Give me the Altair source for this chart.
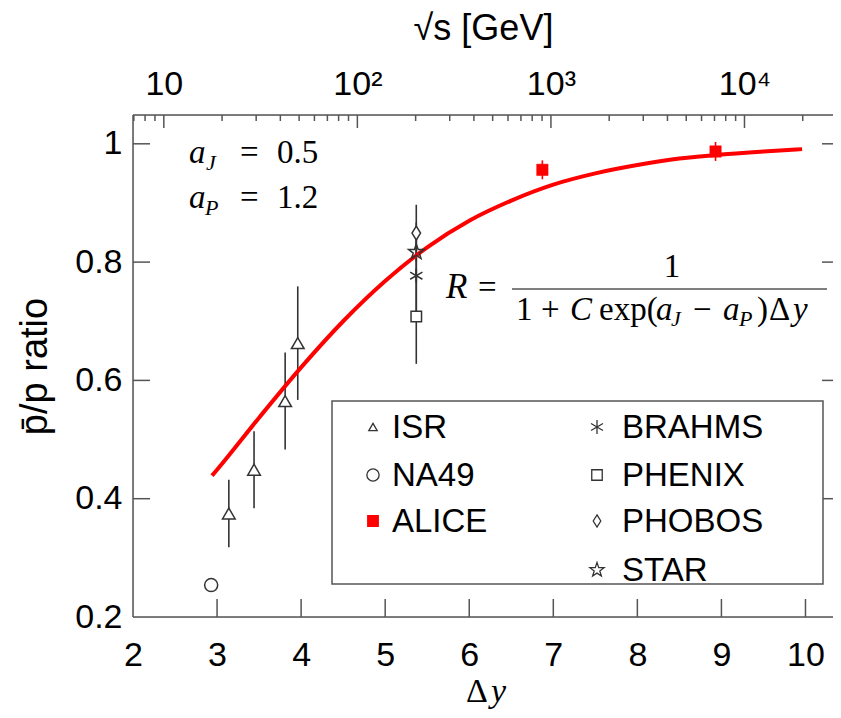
import math
import altair as alt
import pandas as pd

# ---------------- data ----------------
isr_dy = [3.14, 3.44, 3.81, 3.96]
isr_r = [0.375, 0.449, 0.565, 0.663]
isr_err = [0.057, 0.065, 0.082, 0.096]

na49_dy = [2.93]
na49_r = [0.254]
na49_err = [0.0]

alice_dy = [6.87, 8.93]
alice_r = [0.956, 0.987]
alice_err = [0.016, 0.016]

brahms_dy = [5.37]
brahms_r = [0.777]
brahms_err = [0.07]

phenix_dy = [5.37]
phenix_r = [0.708]
phenix_err = [0.08]

phobos_dy = [5.37]
phobos_r = [0.849]
phobos_err = [0.048]

star_dy = [5.37]
star_r = [0.817]
star_err = [0.05]

curve_dy = [2.94, 3.0, 3.5, 4.0, 4.5, 5.0, 5.5, 6.0, 6.5, 7.0, 7.5, 8.0, 8.5, 9.0, 9.5, 9.96]
curve_r = [0.439, 0.449, 0.537, 0.622, 0.700, 0.768, 0.825, 0.870, 0.904, 0.931,
           0.950, 0.964, 0.975, 0.982, 0.987, 0.991]

x_ticks = [2, 3, 4, 5, 6, 7, 8, 9, 10]
y_ticks = [0.2, 0.4, 0.6, 0.8, 1.0]
sqrt_s_major = [10, 100, 1000, 10000]
sqrt_s_minor = [7, 8, 9, 20, 30, 40, 50, 60, 70, 80, 90,
                200, 300, 400, 500, 600, 700, 800, 900,
                2000, 3000, 4000, 5000, 6000, 7000, 8000, 9000, 20000, 30000]

legend_col1 = ["ISR", "NA49", "ALICE"]
legend_col2 = ["BRAHMS", "PHENIX", "PHOBOS", "STAR"]

# ---------------- layout ----------------
W, H = 700, 502
PX_PER_DY = 84.06
PX_PER_R = 591.5
X_DOMAIN = [2, 2 + W / PX_PER_DY]
Y_DOMAIN = [0.2, 0.2 + H / PX_PER_R]
M_P = 0.938  # Δy = ln(√s / m_p)
S_DOMAIN = [M_P * math.exp(X_DOMAIN[0]), M_P * math.exp(X_DOMAIN[1])]
minor_in = [v for v in sqrt_s_minor if S_DOMAIN[0] <= v <= S_DOMAIN[1]]

SANS = "Liberation Sans"
SERIF = "Liberation Serif"
FRAME = "#555555"
MARK = "#333333"
RED = "#ff0000"
LBL = 34
MATH = 33

one = pd.DataFrame({"k": [0]})

xscale = alt.Scale(domain=X_DOMAIN, nice=False, zero=False)
yscale = alt.Scale(domain=Y_DOMAIN, nice=False, zero=False)

xaxis = alt.Axis(orient="bottom", values=x_ticks, tickSize=0, domain=False, grid=False,
                 labelFontSize=LBL, labelFont=SANS, labelColor="black", labelPadding=21,
                 labelFlush=False, labelOverlap=False, title=None)
yaxis = alt.Axis(values=y_ticks, tickSize=0, domain=False, grid=False,
                 labelExpr="datum.value == 1 ? '1' : format(datum.value, '.1f')",
                 labelFontSize=LBL, labelFont=SANS, labelColor="black", labelPadding=11,
                 labelFlush=False, labelOverlap=False,
                 title="p\u0304/p ratio", titleFont=SANS, titleFontSize=38,
                 titleFontWeight="normal", titleColor="black", titlePadding=20)

X = alt.X("dy:Q", scale=xscale, axis=xaxis)
Y = alt.Y("r:Q", scale=yscale, axis=yaxis)


def series(dy, r, err):
    return pd.DataFrame({"dy": dy, "r": r,
                         "lo": [a - e for a, e in zip(r, err)],
                         "hi": [a + e for a, e in zip(r, err)]})


def errbars(df, color=MARK):
    return alt.Chart(df).mark_rule(color=color, strokeWidth=1.6).encode(
        x=X, y=alt.Y("lo:Q", scale=yscale, axis=yaxis), y2="hi:Q")


def points(df, shape, size, fill, stroke, sw=1.5):
    return alt.Chart(df).mark_point(shape=shape, size=size, fill=fill, stroke=stroke,
                                    strokeWidth=sw, opacity=1, fillOpacity=1).encode(x=X, y=Y)


ASTER = "M0,-1L0,1M-0.87,-0.5L0.87,0.5M-0.87,0.5L0.87,-0.5"
NARROW_DIAMOND = "M0,-1L0.62,0L0,1L-0.62,0Z"
STAR = ("M0,-1L0.235,-0.324L0.951,-0.309L0.380,0.124L0.588,0.809L0,0.42"
        "L-0.588,0.809L-0.380,0.124L-0.951,-0.309L-0.235,-0.324Z")

isr = series(isr_dy, isr_r, isr_err)
na49 = series(na49_dy, na49_r, na49_err)
alice = series(alice_dy, alice_r, alice_err)
brahms = series(brahms_dy, brahms_r, brahms_err)
phenix = series(phenix_dy, phenix_r, phenix_err)
phobos = series(phobos_dy, phobos_r, phobos_err)
star = series(star_dy, star_r, star_err)

curve = alt.Chart(pd.DataFrame({"dy": curve_dy, "r": curve_r})).mark_line(
    color=RED, strokeWidth=4, interpolate="monotone").encode(x=X, y=Y)

tick_x = pd.DataFrame({"dy": x_ticks[1:]})
tick_y = pd.DataFrame({"r": y_ticks[1:]})
bottom_ticks = alt.Chart(tick_x).mark_rule(color=FRAME, strokeWidth=1.5).encode(
    x=X, y=alt.value(H), y2=alt.value(H - 18))
left_ticks = alt.Chart(tick_y).mark_rule(color=FRAME, strokeWidth=1.5).encode(
    y=Y, x=alt.value(0), x2=alt.value(17))
right_ticks = alt.Chart(tick_y).mark_rule(color=FRAME, strokeWidth=1.5).encode(
    y=Y, x=alt.value(W - 11), x2=alt.value(W))


def frame_line(**enc):
    return alt.Chart(one).mark_rule(color=FRAME, strokeWidth=1.5).encode(**enc)


frame = [
    frame_line(x=alt.value(0), y=alt.value(0), y2=alt.value(H)),
    frame_line(y=alt.value(0), x=alt.value(0), x2=alt.value(W)),
    frame_line(y=alt.value(H), x=alt.value(0), x2=alt.value(W)),
]

main = alt.layer(
    *frame, bottom_ticks, left_ticks, right_ticks,
    errbars(isr), errbars(brahms), errbars(phenix), errbars(phobos), errbars(star),
    errbars(alice, RED),
    curve,
    points(isr, "triangle-up", 160, "white", MARK),
    points(na49, "circle", 170, "white", MARK),
    points(phenix, "square", 110, "white", MARK),
    points(brahms, ASTER, 200, "white", MARK),
    points(phobos, NARROW_DIAMOND, 190, "white", MARK),
    points(star, STAR, 260, "none", MARK),
    points(alice, "square", 130, RED, RED, 0.5),
)

# ---------------- top √s axis ----------------
top_axis = alt.Axis(orient="top", values=sqrt_s_major, tickSize=0, domain=False, grid=False,
                    labelExpr="datum.value == 10 ? '10' : datum.value == 100 ? '10\u00b2' : "
                              "datum.value == 1000 ? '10\u00b3' : '10\u2074'",
                    labelFontSize=LBL, labelFont=SANS, labelColor="black", labelPadding=14,
                    labelFlush=False, labelOverlap=False,
                    title="\u221as [GeV]", titleFont=SANS, titleFontSize=36,
                    titleFontWeight="normal", titleColor="black", titlePadding=20)
SX = alt.X("s:Q", scale=alt.Scale(type="log", domain=S_DOMAIN, nice=False), axis=top_axis)
top = alt.layer(
    alt.Chart(pd.DataFrame({"s": sqrt_s_major})).mark_rule(color=FRAME, strokeWidth=1.5).encode(
        x=SX, y=alt.value(0), y2=alt.value(13)),
    alt.Chart(pd.DataFrame({"s": minor_in})).mark_rule(color=FRAME, strokeWidth=1.5).encode(
        x=SX, y=alt.value(0), y2=alt.value(6)),
)


# ---------------- annotations & legend (pixel placed) ----------------
def txt(s, x, y, size=MATH, font=SERIF, style="normal", align="left", baseline="alphabetic"):
    return alt.Chart(one).mark_text(text=s, fontSize=size, font=font, fontStyle=style,
                                    align=align, baseline=baseline, color="black").encode(
        x=alt.value(x), y=alt.value(y))


def hline(x1, x2, y, color="black", sw=1.2):
    return alt.Chart(one).mark_rule(color=color, strokeWidth=sw).encode(
        x=alt.value(x1), x2=alt.value(x2), y=alt.value(y))


def sym(shape, x, y, size, fill, stroke, sw=1.3):
    return alt.Chart(one).mark_point(shape=shape, size=size, fill=fill, stroke=stroke,
                                     strokeWidth=sw, opacity=1, fillOpacity=1).encode(
        x=alt.value(x), y=alt.value(y))


SUB = 22
annot = [
    # a_J = 0.5 ; a_P = 1.2
    txt("a", 56, 48, style="italic"), txt("J", 73, 55, size=SUB, style="italic"),
    txt("=", 107, 48), txt("0.5", 144, 48),
    txt("a", 56, 93, style="italic"), txt("P", 72, 100, size=SUB, style="italic"),
    txt("=", 107, 93), txt("1.2", 144, 93),
    # R = 1 / (1 + C exp(a_J - a_P) Δy)
    txt("R", 313, 183, size=35, style="italic"), txt("=", 345, 183),
    txt("1", 539, 162, align="center"),
    hline(379, 694, 174),
    txt("1", 383, 205), txt("+", 408, 205), txt("C", 437, 205, style="italic"),
    txt("exp(", 466, 205), txt("a", 523, 205, style="italic"),
    txt("J", 538, 211, size=SUB, style="italic"),
    txt("\u2212", 560, 205), txt("a", 590, 205, style="italic"),
    txt("P", 606, 211, size=SUB, style="italic"),
    txt(")", 624, 205), txt("\u0394", 636, 205), txt("y", 660, 205, style="italic"),
    # bottom axis title Δ y
    txt("\u0394", 333, 587, size=34), txt("y", 358, 587, size=34, style="italic"),
]

# legend box
legend_box = alt.Chart(one).mark_rect(fill="white", stroke=FRAME, strokeWidth=1.5).encode(
    x=alt.value(199), x2=alt.value(690), y=alt.value(286), y2=alt.value(469))

ROWS = [312, 360, 406, 455]
col1_syms = [("triangle-up", 70, "white", MARK), ("circle", 150, "white", MARK),
             ("square", 110, RED, RED)]
col2_syms = [(ASTER, 190, "white", MARK), ("square", 110, "white", MARK),
             (NARROW_DIAMOND, 150, "white", MARK), (STAR, 220, "none", MARK)]
legend = [legend_box]
for i, name in enumerate(legend_col1):
    shp, sz, fl, st = col1_syms[i]
    legend.append(sym(shp, 240, ROWS[i], sz, fl, st))
    legend.append(txt(name, 259, ROWS[i] + 1, size=33, font=SANS, baseline="middle"))
for i, name in enumerate(legend_col2):
    shp, sz, fl, st = col2_syms[i]
    legend.append(sym(shp, 464, ROWS[i], sz, fl, st))
    legend.append(txt(name, 489, ROWS[i] + 1, size=33, font=SANS, baseline="middle"))

overlay = alt.layer(*legend, *annot)

chart = alt.layer(main, top, overlay).resolve_scale(x="independent").properties(
    width=W, height=H,
    autosize=alt.AutoSizeParams(type="none"),
    padding={"left": 125, "top": 107, "right": 0, "bottom": 92},
).configure_view(strokeWidth=0).configure(background="white")

chart.save("out.html", embed_options={"renderer": "svg", "actions": False})
